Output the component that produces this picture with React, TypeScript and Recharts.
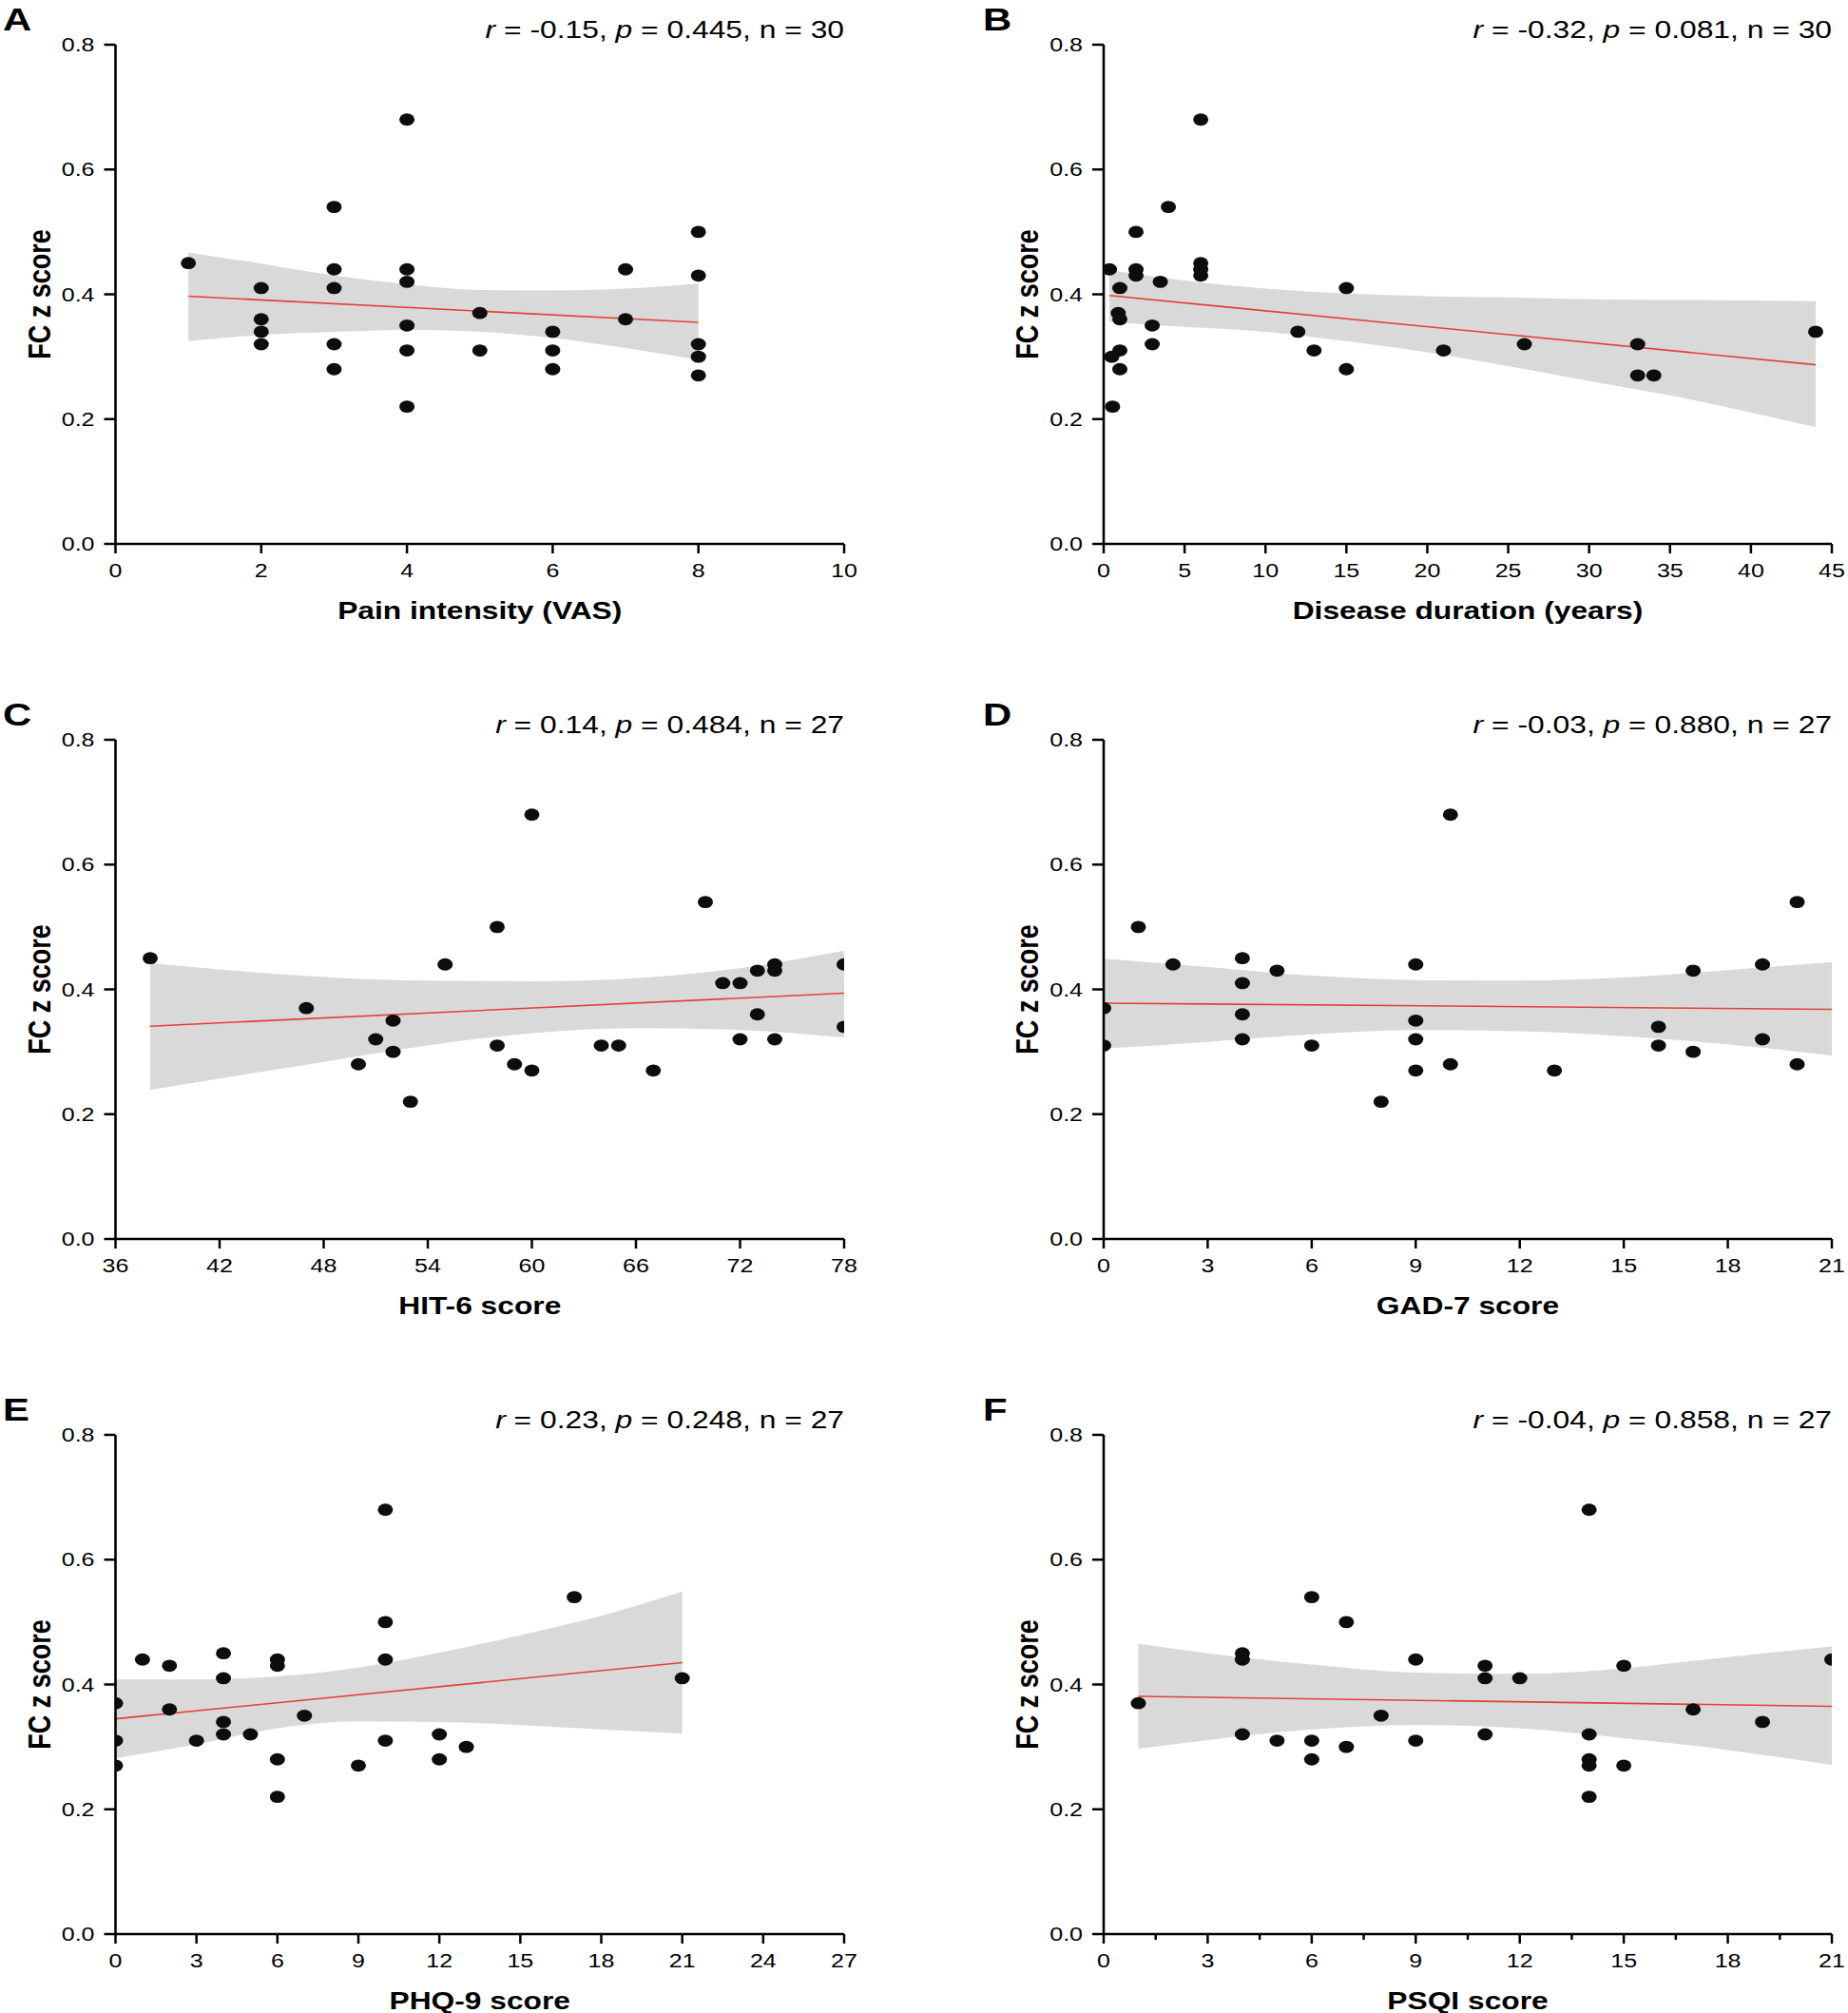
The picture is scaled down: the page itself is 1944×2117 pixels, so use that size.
import React from 'react';
import { ComposedChart, Area, Line, Scatter, XAxis, YAxis } from 'recharts';

const FONT = '"Liberation Sans", Arial, Helvetica, sans-serif';
// the original figure is stretched horizontally, so text and dots are too
const SX = 1.25;

const fcTicks = [0, 0.2, 0.4, 0.6, 0.8];

// A - pain intensity (VAS)
const vasPoints = [
    { x: 1, y: 0.45 },
    { x: 2, y: 0.41 }, { x: 2, y: 0.36 }, { x: 2, y: 0.34 }, { x: 2, y: 0.32 },
    { x: 3, y: 0.54 }, { x: 3, y: 0.44 }, { x: 3, y: 0.41 }, { x: 3, y: 0.32 }, { x: 3, y: 0.28 },
    { x: 4, y: 0.68 }, { x: 4, y: 0.44 }, { x: 4, y: 0.42 }, { x: 4, y: 0.35 }, { x: 4, y: 0.31 }, { x: 4, y: 0.22 },
    { x: 5, y: 0.37 }, { x: 5, y: 0.31 },
    { x: 6, y: 0.34 }, { x: 6, y: 0.31 }, { x: 6, y: 0.28 },
    { x: 7, y: 0.44 }, { x: 7, y: 0.36 },
    { x: 8, y: 0.5 }, { x: 8, y: 0.43 }, { x: 8, y: 0.32 }, { x: 8, y: 0.3 }, { x: 8, y: 0.27 },
];
const vasFit = [{ x: 1, y: 0.397 }, { x: 8, y: 0.355 }];
const vasBandX = [1, 2, 3, 4, 5, 6, 7, 8];
const vasBandLow = [0.325, 0.335, 0.34, 0.343, 0.34, 0.33, 0.314, 0.295];
const vasBandHigh = [0.467, 0.449, 0.43, 0.416, 0.407, 0.406, 0.409, 0.417];
const vasTicks = [0, 2, 4, 6, 8, 10];

// B - disease duration
const durPoints = [
    { x: 0.36, y: 0.44 }, { x: 0.5, y: 0.3 }, { x: 0.55, y: 0.22 },
    { x: 0.9, y: 0.37 }, { x: 1, y: 0.41 }, { x: 1, y: 0.36 }, { x: 1, y: 0.31 }, { x: 1, y: 0.28 },
    { x: 2, y: 0.5 }, { x: 2, y: 0.44 }, { x: 2, y: 0.43 },
    { x: 3, y: 0.35 }, { x: 3, y: 0.32 }, { x: 3.5, y: 0.42 }, { x: 4, y: 0.54 },
    { x: 6, y: 0.68 }, { x: 6, y: 0.45 }, { x: 6, y: 0.44 }, { x: 6, y: 0.43 },
    { x: 12, y: 0.34 }, { x: 13, y: 0.31 }, { x: 15, y: 0.41 }, { x: 15, y: 0.28 },
    { x: 21, y: 0.31 }, { x: 26, y: 0.32 },
    { x: 33, y: 0.32 }, { x: 33, y: 0.27 }, { x: 34, y: 0.27 }, { x: 44, y: 0.34 },
];
const durFit = [{ x: 0.36, y: 0.398 }, { x: 44, y: 0.287 }];
const durBandX = [0.36, 5, 10, 15, 20, 25, 30, 35, 44];
const durBandLow = [0.356, 0.348, 0.34, 0.325, 0.307, 0.285, 0.261, 0.238, 0.187];
const durBandHigh = [0.439, 0.422, 0.409, 0.401, 0.397, 0.395, 0.392, 0.391, 0.389];
const durTicks = [0, 5, 10, 15, 20, 25, 30, 35, 40, 45];

// C - HIT-6
const hitPoints = [
    { x: 38, y: 0.45 }, { x: 47, y: 0.37 }, { x: 50, y: 0.28 }, { x: 51, y: 0.32 },
    { x: 52, y: 0.35 }, { x: 52, y: 0.3 }, { x: 53, y: 0.22 }, { x: 55, y: 0.44 },
    { x: 58, y: 0.5 }, { x: 58, y: 0.31 }, { x: 59, y: 0.28 }, { x: 60, y: 0.68 }, { x: 60, y: 0.27 },
    { x: 64, y: 0.31 }, { x: 65, y: 0.31 }, { x: 67, y: 0.27 }, { x: 70, y: 0.54 },
    { x: 71, y: 0.41 }, { x: 72, y: 0.41 }, { x: 72, y: 0.32 },
    { x: 73, y: 0.43 }, { x: 73, y: 0.36 }, { x: 74, y: 0.44 }, { x: 74, y: 0.43 }, { x: 74, y: 0.32 },
    { x: 78, y: 0.44 }, { x: 78, y: 0.34 },
];
const hitFit = [{ x: 38, y: 0.341 }, { x: 78, y: 0.394 }];
const hitBandX = [38, 42, 48, 54, 60, 66, 72, 78];
const hitBandLow = [0.239, 0.257, 0.284, 0.31, 0.33, 0.338, 0.335, 0.323];
const hitBandHigh = [0.442, 0.432, 0.42, 0.414, 0.413, 0.418, 0.434, 0.462];
const hitTicks = [36, 42, 48, 54, 60, 66, 72, 78];

// D - GAD-7
const gadPoints = [
    { x: 0, y: 0.37 }, { x: 0, y: 0.31 }, { x: 1, y: 0.5 }, { x: 2, y: 0.44 },
    { x: 4, y: 0.45 }, { x: 4, y: 0.41 }, { x: 4, y: 0.36 }, { x: 4, y: 0.32 },
    { x: 5, y: 0.43 }, { x: 6, y: 0.31 }, { x: 8, y: 0.22 },
    { x: 9, y: 0.44 }, { x: 9, y: 0.35 }, { x: 9, y: 0.32 }, { x: 9, y: 0.27 },
    { x: 10, y: 0.68 }, { x: 10, y: 0.28 }, { x: 13, y: 0.27 },
    { x: 16, y: 0.34 }, { x: 16, y: 0.31 }, { x: 17, y: 0.43 }, { x: 17, y: 0.3 },
    { x: 19, y: 0.44 }, { x: 19, y: 0.32 }, { x: 20, y: 0.54 }, { x: 20, y: 0.28 },
];
const gadFit = [{ x: 0, y: 0.378 }, { x: 21, y: 0.368 }];
const gadBandX = [0, 3, 6, 9, 12, 15, 18, 21];
const gadBandLow = [0.305, 0.316, 0.328, 0.335, 0.333, 0.325, 0.312, 0.294];
const gadBandHigh = [0.449, 0.436, 0.422, 0.415, 0.414, 0.419, 0.431, 0.444];
const gadTicks = [0, 3, 6, 9, 12, 15, 18, 21];

// E - PHQ-9
const phqPoints = [
    { x: 0, y: 0.37 }, { x: 0, y: 0.31 }, { x: 0, y: 0.27 }, { x: 1, y: 0.44 },
    { x: 2, y: 0.43 }, { x: 2, y: 0.36 }, { x: 3, y: 0.31 },
    { x: 4, y: 0.45 }, { x: 4, y: 0.41 }, { x: 4, y: 0.34 }, { x: 4, y: 0.32 }, { x: 5, y: 0.32 },
    { x: 6, y: 0.44 }, { x: 6, y: 0.43 }, { x: 6, y: 0.28 }, { x: 6, y: 0.22 }, { x: 7, y: 0.35 },
    { x: 9, y: 0.27 }, { x: 10, y: 0.68 }, { x: 10, y: 0.5 }, { x: 10, y: 0.44 }, { x: 10, y: 0.31 },
    { x: 12, y: 0.32 }, { x: 12, y: 0.28 }, { x: 13, y: 0.3 }, { x: 17, y: 0.54 }, { x: 21, y: 0.41 },
];
const phqFit = [{ x: 0, y: 0.345 }, { x: 21, y: 0.435 }];
const phqBandX = [0, 3, 6, 9, 12, 15, 18, 21];
const phqBandLow = [0.282, 0.304, 0.33, 0.341, 0.34, 0.335, 0.328, 0.321];
const phqBandHigh = [0.408, 0.408, 0.413, 0.427, 0.451, 0.479, 0.51, 0.549];
const phqTicks = [0, 3, 6, 9, 12, 15, 18, 21, 24, 27];

// F - PSQI
const psqiPoints = [
    { x: 1, y: 0.37 }, { x: 4, y: 0.45 }, { x: 4, y: 0.44 }, { x: 4, y: 0.32 }, { x: 5, y: 0.31 },
    { x: 6, y: 0.54 }, { x: 6, y: 0.31 }, { x: 6, y: 0.28 }, { x: 7, y: 0.5 }, { x: 7, y: 0.3 },
    { x: 8, y: 0.35 }, { x: 9, y: 0.44 }, { x: 9, y: 0.31 },
    { x: 11, y: 0.43 }, { x: 11, y: 0.41 }, { x: 11, y: 0.32 }, { x: 12, y: 0.41 },
    { x: 14, y: 0.68 }, { x: 14, y: 0.32 }, { x: 14, y: 0.28 }, { x: 14, y: 0.27 }, { x: 14, y: 0.22 },
    { x: 15, y: 0.43 }, { x: 15, y: 0.27 }, { x: 17, y: 0.36 }, { x: 19, y: 0.34 }, { x: 21, y: 0.44 },
];
const psqiFit = [{ x: 1, y: 0.381 }, { x: 21, y: 0.365 }];
const psqiBandX = [1, 3, 6, 9, 12, 15, 18, 21];
const psqiBandLow = [0.297, 0.311, 0.328, 0.335, 0.33, 0.314, 0.295, 0.271];
const psqiBandHigh = [0.465, 0.45, 0.432, 0.419, 0.417, 0.426, 0.444, 0.461];
const psqiTicks = [0, 3, 6, 9, 12, 15, 18, 21];
const psqiMinor = [1.5, 4.5, 7.5, 10.5, 13.5, 16.5, 19.5];

const band = (xs: number[], lo: number[], hi: number[]) =>
    xs.map((x, i) => ({ x, band: [lo[i], hi[i]] }));

const panels = [
    { id: 'A', col: 0, row: 0, points: vasPoints, fit: vasFit, band: band(vasBandX, vasBandLow, vasBandHigh), ticks: vasTicks, minor: [] as number[], domain: [0, 10], xLabel: 'Pain intensity (VAS)', r: '-0.15', p: '0.445', n: 30 },
    { id: 'B', col: 1, row: 0, points: durPoints, fit: durFit, band: band(durBandX, durBandLow, durBandHigh), ticks: durTicks, minor: [] as number[], domain: [0, 45], xLabel: 'Disease duration (years)', r: '-0.32', p: '0.081', n: 30 },
    { id: 'C', col: 0, row: 1, points: hitPoints, fit: hitFit, band: band(hitBandX, hitBandLow, hitBandHigh), ticks: hitTicks, minor: [] as number[], domain: [36, 78], xLabel: 'HIT-6 score', r: '0.14', p: '0.484', n: 27 },
    { id: 'D', col: 1, row: 1, points: gadPoints, fit: gadFit, band: band(gadBandX, gadBandLow, gadBandHigh), ticks: gadTicks, minor: [] as number[], domain: [0, 21], xLabel: 'GAD-7 score', r: '-0.03', p: '0.880', n: 27 },
    { id: 'E', col: 0, row: 2, points: phqPoints, fit: phqFit, band: band(phqBandX, phqBandLow, phqBandHigh), ticks: phqTicks, minor: [] as number[], domain: [0, 27], xLabel: 'PHQ-9 score', r: '0.23', p: '0.248', n: 27 },
    { id: 'F', col: 1, row: 2, points: psqiPoints, fit: psqiFit, band: band(psqiBandX, psqiBandLow, psqiBandHigh), ticks: psqiTicks, minor: psqiMinor, domain: [0, 21], xLabel: 'PSQI score', r: '-0.04', p: '0.858', n: 27 },
];

const W = 972;
const H = 731;
const TOP = 47;
const PLOT_H = 525;
const X_AXIS_H = 40;
const Y_AXIS_W = 60;
const COLS = [
    { plotLeft: 121.5, plotRight: 888, letterX: 3 },
    { plotLeft: 189, plotRight: 955, letterX: 62 },
];

const XTick = ({ x, y, payload, majors }: any) => {
    const major = majors.includes(payload.value);
    return (
        <g>
            <line x1={x} x2={x} y1={y} y2={y + (major ? 10 : 6)} stroke="#000" strokeWidth={2.5} />
            {major && (
                <text
                    transform={`translate(${x},${y + 35}) scale(${SX},1)`}
                    textAnchor="middle"
                    fontSize={20}
                    fontFamily={FONT}
                    fill="#000"
                >
                    {payload.value}
                </text>
            )}
        </g>
    );
};

const YTick = ({ x, y, payload }: any) => (
    <g>
        <line x1={x - 12} x2={x} y1={y} y2={y} stroke="#000" strokeWidth={2.5} />
        <text
            transform={`translate(${x - 22},${y + 7.1}) scale(${SX},1)`}
            textAnchor="end"
            fontSize={20}
            fontFamily={FONT}
            fill="#000"
        >
            {Number(payload.value).toFixed(1)}
        </text>
    </g>
);

const Dot = (props: any) => (
    <ellipse cx={props.cx} cy={props.cy} rx={8} ry={6.4} fill="#0d0d0d" />
);

const Panel = ({ panel }: { panel: (typeof panels)[number] }) => {
    const col = COLS[panel.col];
    const plotBottom = TOP + PLOT_H;
    const allTicks = [...panel.ticks, ...panel.minor].sort((a, b) => a - b);
    return (
        <div style={{ position: 'absolute', left: panel.col * W, top: panel.row * H, width: W, height: H }}>
            <ComposedChart
                width={W}
                height={H}
                data={panel.band}
                margin={{
                    top: TOP,
                    right: W - col.plotRight,
                    bottom: H - plotBottom - X_AXIS_H,
                    left: col.plotLeft - Y_AXIS_W,
                }}
            >
                <XAxis
                    type="number"
                    dataKey="x"
                    domain={panel.domain}
                    ticks={allTicks}
                    interval={0}
                    allowDataOverflow
                    height={X_AXIS_H}
                    tickSize={0}
                    tickMargin={0}
                    tickLine={false}
                    axisLine={{ stroke: '#000', strokeWidth: 2.6 }}
                    tick={(props: any) => <XTick {...props} majors={panel.ticks} />}
                />
                <YAxis
                    type="number"
                    dataKey="y"
                    domain={[0, 0.8]}
                    ticks={fcTicks}
                    interval={0}
                    width={Y_AXIS_W}
                    tickSize={0}
                    tickMargin={0}
                    tickLine={false}
                    axisLine={{ stroke: '#000', strokeWidth: 2.6 }}
                    tick={(props: any) => <YTick {...props} />}
                />
                <Area
                    dataKey="band"
                    type="monotone"
                    stroke="none"
                    fill="#d9d9d9"
                    fillOpacity={1}
                    dot={false}
                    activeDot={false}
                    isAnimationActive={false}
                />
                <Scatter data={panel.points} shape={Dot} isAnimationActive={false} />
                <Line
                    data={panel.fit}
                    dataKey="y"
                    type="linear"
                    stroke="#e2403a"
                    strokeWidth={1.6}
                    dot={false}
                    activeDot={false}
                    isAnimationActive={false}
                />
            </ComposedChart>
            <svg width={W} height={H} style={{ position: 'absolute', left: 0, top: 0, pointerEvents: 'none' }}>
                <text
                    transform={`translate(${col.letterX},32) scale(${SX},1)`}
                    fontSize={33.5}
                    fontWeight="bold"
                    fontFamily={FONT}
                    fill="#000"
                >
                    {panel.id}
                </text>
                <text
                    transform={`translate(${col.plotRight},40) scale(1.2,1)`}
                    textAnchor="end"
                    fontSize={26.5}
                    fontFamily={FONT}
                    fill="#000"
                    style={{ whiteSpace: 'pre' }}
                >
                    <tspan fontStyle="italic">r</tspan>
                    {` = ${panel.r}, `}
                    <tspan fontStyle="italic">p</tspan>
                    {` = ${panel.p}, n = ${panel.n}`}
                </text>
                <text
                    transform={`translate(${(col.plotLeft + col.plotRight) / 2},${plotBottom + 79}) scale(1.27,1)`}
                    textAnchor="middle"
                    fontSize={25}
                    fontWeight="bold"
                    fontFamily={FONT}
                    fill="#000"
                >
                    {panel.xLabel}
                </text>
                <text
                    transform={`translate(${col.plotLeft - 81},${TOP + PLOT_H / 2}) rotate(-90) scale(1,${SX})`}
                    y={9.7}
                    textAnchor="middle"
                    fontSize={27}
                    fontWeight="bold"
                    fontFamily={FONT}
                    fill="#000"
                >
                    FC z score
                </text>
            </svg>
        </div>
    );
}

export default function App() {
    return (
        <div
            style={{
                position: 'absolute',
                left: 0,
                top: 0,
                width: 1944,
                height: 2117,
                overflow: 'hidden',
                background: '#fff',
            }}
        >
            {panels.map((p) => (
                <Panel key={p.id} panel={p} />
            ))}
        </div>
    );
}
